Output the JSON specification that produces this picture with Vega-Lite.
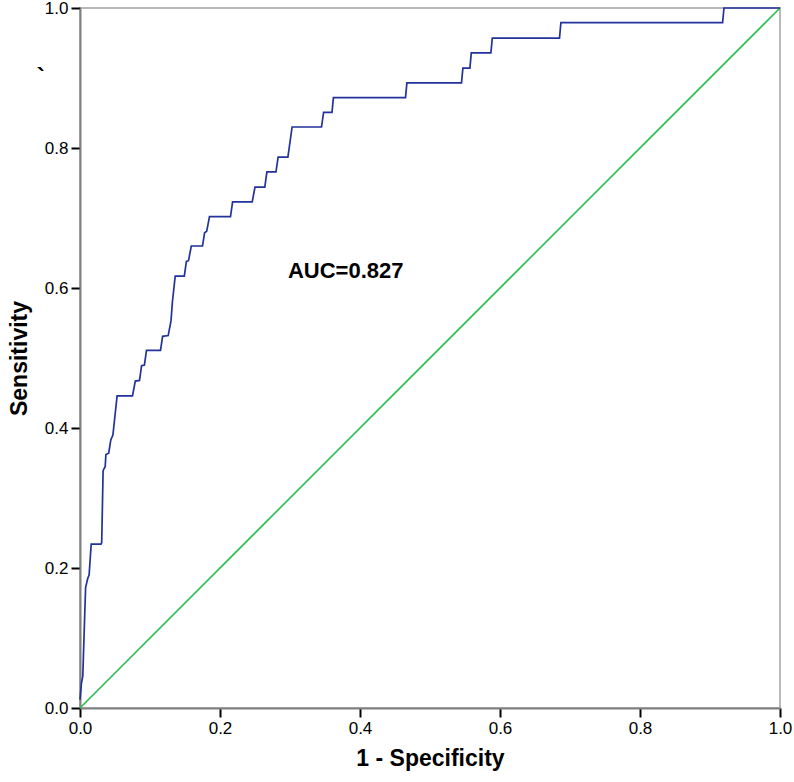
{
  "$schema": "https://vega.github.io/schema/vega-lite/v6.json",
  "width": 700,
  "height": 700,
  "autosize": {"type": "none"},
  "padding": {"left": 80, "top": 8, "right": 14, "bottom": 74},
  "config": {
    "view": {"stroke": "#b8b8b8", "strokeWidth": 2},
    "font": "Liberation Sans",
    "axis": {
      "grid": false,
      "domainColor": "#808080",
      "domainWidth": 2,
      "tickColor": "#000000",
      "tickWidth": 2,
      "tickSize": 9,
      "labelFontSize": 17,
      "labelColor": "#000000",
      "labelPadding": 3,
      "labelFlush": false,
      "labelOverlap": false,
      "titleFontSize": 23,
      "titleFontWeight": "bold",
      "titleColor": "#000000"
    }
  },
  "datasets": {
    "roc": [
      {"fpr": 0.000, "tpr": 0.012},
      {"fpr": 0.002, "tpr": 0.035},
      {"fpr": 0.004, "tpr": 0.046},
      {"fpr": 0.006, "tpr": 0.11},
      {"fpr": 0.008, "tpr": 0.172},
      {"fpr": 0.011, "tpr": 0.185},
      {"fpr": 0.013, "tpr": 0.19},
      {"fpr": 0.016, "tpr": 0.234},
      {"fpr": 0.030, "tpr": 0.234},
      {"fpr": 0.031, "tpr": 0.236},
      {"fpr": 0.033, "tpr": 0.339},
      {"fpr": 0.036, "tpr": 0.345},
      {"fpr": 0.037, "tpr": 0.362},
      {"fpr": 0.041, "tpr": 0.364},
      {"fpr": 0.044, "tpr": 0.383},
      {"fpr": 0.047, "tpr": 0.39},
      {"fpr": 0.053, "tpr": 0.446},
      {"fpr": 0.075, "tpr": 0.446},
      {"fpr": 0.079, "tpr": 0.467},
      {"fpr": 0.085, "tpr": 0.468},
      {"fpr": 0.088, "tpr": 0.489},
      {"fpr": 0.092, "tpr": 0.49},
      {"fpr": 0.095, "tpr": 0.511},
      {"fpr": 0.115, "tpr": 0.511},
      {"fpr": 0.118, "tpr": 0.531},
      {"fpr": 0.126, "tpr": 0.532},
      {"fpr": 0.130, "tpr": 0.553},
      {"fpr": 0.132, "tpr": 0.58},
      {"fpr": 0.136, "tpr": 0.617},
      {"fpr": 0.149, "tpr": 0.617},
      {"fpr": 0.152, "tpr": 0.638},
      {"fpr": 0.155, "tpr": 0.639},
      {"fpr": 0.159, "tpr": 0.66},
      {"fpr": 0.175, "tpr": 0.66},
      {"fpr": 0.178, "tpr": 0.679},
      {"fpr": 0.181, "tpr": 0.681},
      {"fpr": 0.185, "tpr": 0.702},
      {"fpr": 0.215, "tpr": 0.702},
      {"fpr": 0.218, "tpr": 0.723},
      {"fpr": 0.246, "tpr": 0.723},
      {"fpr": 0.250, "tpr": 0.744},
      {"fpr": 0.264, "tpr": 0.744},
      {"fpr": 0.267, "tpr": 0.766},
      {"fpr": 0.280, "tpr": 0.766},
      {"fpr": 0.283, "tpr": 0.787},
      {"fpr": 0.297, "tpr": 0.787},
      {"fpr": 0.303, "tpr": 0.83},
      {"fpr": 0.345, "tpr": 0.83},
      {"fpr": 0.348, "tpr": 0.851},
      {"fpr": 0.360, "tpr": 0.851},
      {"fpr": 0.362, "tpr": 0.872},
      {"fpr": 0.465, "tpr": 0.872},
      {"fpr": 0.467, "tpr": 0.893},
      {"fpr": 0.545, "tpr": 0.893},
      {"fpr": 0.547, "tpr": 0.914},
      {"fpr": 0.557, "tpr": 0.914},
      {"fpr": 0.559, "tpr": 0.936},
      {"fpr": 0.587, "tpr": 0.936},
      {"fpr": 0.589, "tpr": 0.957},
      {"fpr": 0.685, "tpr": 0.957},
      {"fpr": 0.687, "tpr": 0.979},
      {"fpr": 0.918, "tpr": 0.979},
      {"fpr": 0.920, "tpr": 1.0},
      {"fpr": 1.000, "tpr": 1.0}
    ],
    "ref": [
      {"fpr": 0, "tpr": 0},
      {"fpr": 1, "tpr": 1}
    ],
    "labels": [
      {"fpr": 0.297, "tpr": 0.624, "text": "AUC=0.827", "kind": "auc"},
      {"fpr": -0.056, "tpr": 0.9, "text": "`", "kind": "stray"}
    ]
  },
  "encoding": {
    "x": {
      "field": "fpr",
      "type": "quantitative",
      "scale": {"domain": [0, 1], "nice": false, "zero": false},
      "axis": {
        "values": [0, 0.2, 0.4, 0.6, 0.8, 1.0],
        "format": ".1f",
        "title": "1 - Specificity",
        "titlePadding": 11
      }
    },
    "y": {
      "field": "tpr",
      "type": "quantitative",
      "scale": {"domain": [0, 1], "nice": false, "zero": false},
      "axis": {
        "values": [0, 0.2, 0.4, 0.6, 0.8, 1.0],
        "format": ".1f",
        "title": "Sensitivity",
        "titlePadding": 13
      }
    }
  },
  "layer": [
    {
      "data": {"name": "ref"},
      "mark": {"type": "line", "color": "#2fbf55", "strokeWidth": 1.7}
    },
    {
      "data": {"name": "roc"},
      "mark": {"type": "line", "color": "#22329a", "strokeWidth": 1.7}
    },
    {
      "data": {"name": "labels"},
      "transform": [{"filter": "datum.kind === 'auc'"}],
      "mark": {"type": "text", "align": "left", "baseline": "middle", "fontSize": 22, "fontWeight": "bold", "color": "#000000", "font": "Liberation Sans"},
      "encoding": {"text": {"field": "text"}}
    },
    {
      "data": {"name": "labels"},
      "transform": [{"filter": "datum.kind === 'stray'"}],
      "mark": {"type": "text", "align": "center", "baseline": "middle", "fontSize": 24, "fontWeight": "bold", "color": "#000000"},
      "encoding": {"text": {"field": "text"}}
    }
  ]
}
